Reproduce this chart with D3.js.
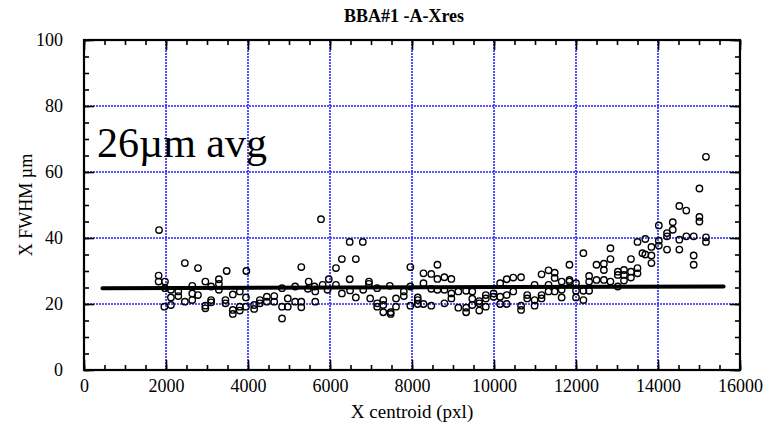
<!DOCTYPE html>
<html>
<head>
<meta charset="utf-8">
<style>
body { margin: 0; background: #fff; }
#thevis { background-color: #fff; }
text { font-family: "Liberation Serif", "Times New Roman", serif; fill: #000; }
.tick text { font-size: 18px; }
.grid line { stroke: #2525ff; stroke-width: 1.6; stroke-dasharray: 2,1; }
</style>
</head>
<body>
<svg id="thevis" width="769" height="427"></svg>
<script src="https://cdn.jsdelivr.net/npm/d3@7"></script>
<script>

/* data */
var xCentroid = [
  1830, 2460, 2780, 3480, 3960, 1820, 1820, 1975, 1975, 2120, 2120, 1960, 2120, 2300, 2300,
  2460, 2640, 2640, 2640, 2780, 2960, 2960, 2960, 3100, 3100, 3100, 3290, 3290, 3290, 3450,
  3450, 3630, 3630, 3630, 3800, 3800, 3800, 3950, 3950, 4150, 4150, 4290, 4290, 4460, 4460,
  5780, 6480, 6800, 6290, 6630, 5300, 6145, 6480, 5480, 5970, 6950, 6950, 4830, 5150, 5460,
  5620, 5640, 5820, 5940, 6145, 6290, 6490, 6630, 6810, 6980, 7150, 7460, 4640, 4640, 4830,
  4970, 4970, 5150, 5300, 5300, 5640, 4830, 7150, 7150, 7300, 7300, 7300, 7480, 7480,
  7610, 7610, 7800, 7800, 7960, 7960, 7960, 8140, 8140, 8140, 8280, 8280, 8280, 8470, 8470,
  8470, 8620, 8620, 8620, 8790, 8790, 8790, 8960, 8960, 8960, 9130, 9130, 9320, 9320, 9320,
  9470, 9470, 9470, 9640, 9640, 9640, 9800, 9800, 9800, 9990, 9990, 10150, 10150, 10150, 10310,
  10310, 10310, 10470, 10470,
  10660, 10660, 10660, 10810, 10810, 10990, 10990, 10990, 11160, 11160, 11160, 11330, 11330, 11330, 11480,
  11480, 11480, 11650, 11650, 11650, 11840, 11840, 11840, 12000, 12000, 12000, 12180, 12180, 12180, 12320,
  12320, 12320, 12500, 12500, 12680, 12680, 12680, 12840, 12840, 12840, 13020, 13020, 13020, 13170, 13170,
  13170, 13340, 13340, 13340, 13500, 13500, 13500, 13620,
  15170, 15010, 14520, 14690, 15010, 15010, 14360, 14360, 14020, 14220, 14220, 14690, 14870, 14520, 15170,
  15170, 13690, 14020, 14020, 13840, 14220, 14520, 13690, 13840, 14870, 14870, 13840
];
var xFwhm = [
  42.4, 32.4, 30.9, 30.0, 30.0, 28.6, 26.8, 26.8, 24.8, 24.3, 22.0, 19.2, 19.7, 23.8, 22.4,
  20.7, 25.5, 23.2, 21.2, 22.7, 26.8, 19.5, 18.7, 25.3, 21.2, 20.5, 27.5, 26.1, 24.3, 21.2,
  20.2, 22.9, 18.2, 17.0, 23.8, 19.2, 18.0, 22.0, 19.2, 19.7, 18.5, 21.2, 20.2, 22.2, 20.7,
  45.7, 38.8, 38.8, 33.6, 33.6, 31.2, 30.9, 27.5, 26.8, 27.5, 26.8, 26.1, 24.8, 25.3, 24.6,
  25.3, 23.8, 25.8, 24.3, 25.8, 23.2, 24.1, 22.0, 24.3, 21.7, 24.8, 25.5, 22.4, 20.7, 19.2,
  21.7, 19.2, 20.7, 20.7, 19.0, 20.7, 15.6, 20.2, 19.2, 21.2, 19.7, 17.5, 17.5, 17.0,
  21.7, 19.2, 23.8, 22.4, 31.2, 25.3, 19.5, 22.0, 21.2, 20.0, 29.3, 26.3, 20.0, 29.1, 24.6,
  19.5, 31.9, 27.6, 24.3, 28.1, 24.3, 20.2, 27.6, 23.2, 21.7, 23.8, 18.9, 24.0, 18.9, 17.5,
  23.8, 21.6, 19.7, 20.9, 20.2, 18.0, 22.7, 21.7, 19.2, 23.2, 22.2, 26.3, 22.2, 20.0, 27.5,
  22.7, 20.0, 28.0, 23.8,
  28.1, 19.5, 18.2, 22.7, 21.7, 25.8, 21.2, 19.5, 29.0, 22.7, 21.7, 30.2, 25.8, 23.8, 29.5,
  27.9, 23.8, 26.8, 24.3, 22.0, 31.9, 27.3, 26.8, 26.3, 24.0, 22.0, 35.4, 24.0, 21.2, 28.5,
  26.8, 24.0, 31.9, 27.3, 32.2, 30.3, 27.3, 36.9, 33.6, 26.8, 29.8, 28.8, 25.3, 30.3, 28.8,
  27.1, 33.6, 29.8, 28.0, 38.8, 30.9, 29.3, 35.4,
  64.6, 55.0, 49.7, 48.3, 46.4, 45.0, 44.8, 42.5, 43.8, 41.5, 40.5, 40.5, 40.5, 39.5, 40.2,
  38.8, 39.7, 39.2, 37.7, 37.3, 36.5, 36.5, 35.0, 34.7, 34.7, 31.9, 32.4
];
// straight fit drawn through the points
var fitX = [450, 15600];
var fitY = [24.8, 25.3];

var xTicks = [0, 2000, 4000, 6000, 8000, 10000, 12000, 14000, 16000];
var yTicks = [0, 20, 40, 60, 80, 100];

var svg = d3.select("#thevis");

var x = d3.scaleLinear().domain([0, 16000]).range([84, 740]);
var y = d3.scaleLinear().domain([0, 100]).range([370, 40]);

// dotted blue grid
var grid = svg.append("g").attr("class", "grid");
grid.selectAll(".gx")
  .data(xTicks.slice(1, -1))
  .enter().append("line")
  .attr("x1", function(d) { return x(d); })
  .attr("x2", function(d) { return x(d); })
  .attr("y1", y(0))
  .attr("y2", y(100));
grid.selectAll(".gy")
  .data(yTicks.slice(1, -1))
  .enter().append("line")
  .attr("x1", x(0))
  .attr("x2", x(16000))
  .attr("y1", function(d) { return y(d); })
  .attr("y2", function(d) { return y(d); });

// ticks on all four sides, pointing inward
function axisStyle(g) {
  g.select(".domain").remove();
  g.selectAll("line").attr("stroke", "#000").attr("stroke-width", 1.6);
}
var xMinor = d3.range(0, 16001, 500);
var yMinor = d3.range(0, 101, 5);

svg.append("g")
  .attr("transform", "translate(0," + y(0) + ")")
  .call(d3.axisBottom(x).tickValues(xMinor).tickSize(-5).tickFormat(""))
  .call(axisStyle);
svg.append("g")
  .attr("transform", "translate(0," + y(0) + ")")
  .call(d3.axisBottom(x).tickValues(xTicks).tickSize(-10).tickPadding(9).tickFormat(d3.format("d")))
  .call(axisStyle);
svg.append("g")
  .attr("transform", "translate(0," + y(100) + ")")
  .call(d3.axisTop(x).tickValues(xMinor).tickSize(-5).tickFormat(""))
  .call(axisStyle);
svg.append("g")
  .attr("transform", "translate(0," + y(100) + ")")
  .call(d3.axisTop(x).tickValues(xTicks).tickSize(-10).tickFormat(""))
  .call(axisStyle);
svg.append("g")
  .attr("transform", "translate(" + x(0) + ",0)")
  .call(d3.axisLeft(y).tickValues(yMinor).tickSize(-5).tickFormat(""))
  .call(axisStyle);
svg.append("g")
  .attr("transform", "translate(" + x(0) + ",0)")
  .call(d3.axisLeft(y).tickValues(yTicks).tickSize(-10).tickPadding(21))
  .call(axisStyle);
svg.append("g")
  .attr("transform", "translate(" + x(16000) + ",0)")
  .call(d3.axisRight(y).tickValues(yMinor).tickSize(-5).tickFormat(""))
  .call(axisStyle);
svg.append("g")
  .attr("transform", "translate(" + x(16000) + ",0)")
  .call(d3.axisRight(y).tickValues(yTicks).tickSize(-10).tickFormat(""))
  .call(axisStyle);

// frame
svg.append("rect")
  .attr("x", x(0))
  .attr("y", y(100))
  .attr("width", x(16000) - x(0))
  .attr("height", y(0) - y(100))
  .attr("fill", "none")
  .attr("stroke", "#000")
  .attr("stroke-width", 2.2);

// points
svg.append("g").selectAll("circle")
  .data(xCentroid)
  .enter().append("circle")
  .attr("cx", function(d) { return x(d); })
  .attr("cy", function(d, i) { return y(xFwhm[i]); })
  .attr("r", 3.2)
  .attr("fill", "none")
  .attr("stroke", "#000")
  .attr("stroke-width", 1.4);

// fit line
svg.append("line")
  .attr("x1", x(fitX[0]))
  .attr("x2", x(fitX[1]))
  .attr("y1", y(fitY[0]))
  .attr("y2", y(fitY[1]))
  .attr("stroke", "#000")
  .attr("stroke-width", 4)
  .attr("stroke-linecap", "round");

// texts
svg.append("text")
  .attr("x", 404)
  .attr("y", 22)
  .attr("text-anchor", "middle")
  .style("font-size", "18px")
  .style("font-weight", "bold")
  .text("BBA#1 -A-Xres");

svg.append("text")
  .attr("x", 412)
  .attr("y", 418)
  .attr("text-anchor", "middle")
  .style("font-size", "19px")
  .text("X centroid (pxl)");

svg.append("text")
  .attr("transform", "translate(32," + y(50) + ") rotate(-90)")
  .attr("text-anchor", "middle")
  .style("font-size", "18px")
  .text("X FWHM µm");

svg.append("text")
  .attr("x", 97)
  .attr("y", 157)
  .style("font-size", "42px")
  .text("26µm avg");

</script>
</body>
</html>
